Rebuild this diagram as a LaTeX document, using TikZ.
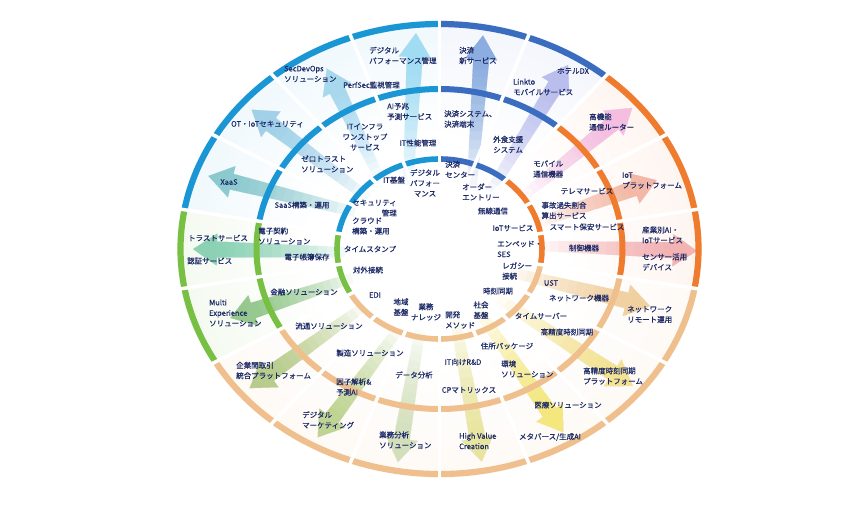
\documentclass[tikz,border=0pt]{standalone}
\usepackage{fontspec}
\setmainfont{Noto Sans CJK JP}[FakeBold=0.35]
\usetikzlibrary{calc}
% ring colours
\definecolor{cLB}{HTML}{1A96D4}
\definecolor{cDB}{HTML}{3A6CC0}
\definecolor{cOR}{HTML}{EF7B2F}
\definecolor{cTN}{HTML}{EFC08E}
\definecolor{cGN}{HTML}{78C043}
% sector tints
\definecolor{tLB}{HTML}{D0EAF8}
\definecolor{tDB}{HTML}{DAE3F5}
\definecolor{tOR}{HTML}{FDDFD0}
\definecolor{tTN}{HTML}{FBEEE0}
\definecolor{tGN}{HTML}{DEF0D2}
% arrow colours
\definecolor{aDPM}{HTML}{7DD3F3}
\definecolor{aPerf}{HTML}{86CDEE}
\definecolor{aOT}{HTML}{7CC2E3}
\definecolor{aXaaS}{HTML}{5DB7BE}
\definecolor{aTrust}{HTML}{5CC39A}
\definecolor{aMulti}{HTML}{6AB45F}
\definecolor{aKigyo}{HTML}{9BBA5C}
\definecolor{aDigi}{HTML}{A6C765}
\definecolor{aGyomu}{HTML}{C4D7A2}
\definecolor{aHV}{HTML}{E2DF78}
\definecolor{aMeta}{HTML}{F4E246}
\definecolor{aKose}{HTML}{F4DC66}
\definecolor{aNW}{HTML}{F1C07A}
\definecolor{aSeigyo}{HTML}{F29798}
\definecolor{aIoT}{HTML}{F39D84}
\definecolor{aKoki}{HTML}{F5A6DA}
\definecolor{aLink}{HTML}{A1A7EB}
\definecolor{aKess}{HTML}{5B8DD7}
\definecolor{navy}{HTML}{1B2966}

\pgfdeclareradialshading{shLB}{\pgfpoint{0bp}{0bp}}{color(0bp)=(white); color(12bp)=(white); color(32bp)=(tLB!50!white); color(46bp)=(tLB); color(100bp)=(tLB)}
\pgfdeclareradialshading{shDB}{\pgfpoint{0bp}{0bp}}{color(0bp)=(white); color(12bp)=(white); color(32bp)=(tDB!50!white); color(46bp)=(tDB); color(100bp)=(tDB)}
\pgfdeclareradialshading{shOR}{\pgfpoint{0bp}{0bp}}{color(0bp)=(white); color(12bp)=(white); color(32bp)=(tOR!50!white); color(46bp)=(tOR); color(100bp)=(tOR)}
\pgfdeclareradialshading{shTN}{\pgfpoint{0bp}{0bp}}{color(0bp)=(white); color(12bp)=(white); color(32bp)=(tTN!50!white); color(46bp)=(tTN); color(100bp)=(tTN)}
\pgfdeclareradialshading{shGN}{\pgfpoint{0bp}{0bp}}{color(0bp)=(white); color(12bp)=(white); color(32bp)=(tGN!50!white); color(46bp)=(tGN); color(100bp)=(tGN)}

\newcommand\lblfont{\fontsize{7.5}{10.4}\selectfont}

% gradient arrow: base x, base y, canvas angle, length, colour
\newcommand\garrow[5]{%
 \begin{scope}[shift={(#1,#2)}, rotate=#3]
  \foreach \i in {0,...,13}{
    \pgfmathsetmacro\ua{\i*(#4-24)/14}
    \pgfmathsetmacro\wa{5+3*\i/14}
    \pgfmathsetmacro\hb{#4-24}
    \fill[#5, fill opacity=0.075] (\ua pt,\wa pt) -- (\hb pt,8pt) -- (\hb pt,16pt) -- (#4pt,0pt)
       -- (\hb pt,-16pt) -- (\hb pt,-8pt) -- (\ua pt,-\wa pt) -- cycle;
  }
 \end{scope}}

\tikzset{
 lbl/.style={font=\lblfont, text=navy, inner sep=0pt},
 lw/.style={lbl, anchor=west, align=left},
 lc/.style={lbl, align=center},
 le/.style={lbl, anchor=east, align=right},
 spoke/.style={white, line width=3.5pt},
}

\begin{document}
\begin{tikzpicture}[x=1pt,y=-1pt]
\useasboundingbox (0,0) rectangle (855,510);
\fill[white] (0,0) rectangle (855,510);

% sector backgrounds
\begin{scope}[shift={(439.5,249)}, yscale=-1]
 \foreach \a/\b/\s in {50/90/shDB, 90/170/shLB, 170/210/shGN, 210/350/shTN, -10/50/shOR}{
  \begin{scope}
   \clip (0,0) -- (\a:262.5 and 228.5) arc[start angle=\a, end angle=\b, x radius=262.5, y radius=228.5] -- cycle;
   \shade[shading=\s] (0,0) ellipse[x radius=262.5, y radius=228.5];
  \end{scope}
 }
\end{scope}

% arrows
\garrow{408}{185}{87.0}{152}{aDPM}
\garrow{378}{175}{115.7}{118}{aPerf}
\garrow{368}{198}{142.8}{146}{aOT}
\garrow{355}{212}{166.2}{151}{aXaaS}
\garrow{345}{252}{178.9}{152}{aTrust}
\garrow{352}{278}{198.2}{128}{aMulti}
\garrow{362}{308}{215.5}{138}{aKigyo}
\garrow{398}{330}{233.2}{134}{aDigi}
\garrow{420}{330}{260.5}{134}{aGyomu}
\garrow{455}{318}{280.6}{146}{aHV}
\garrow{478}{310}{304.9}{149}{aMeta}
\garrow{498}{298}{326.9}{161}{aKose}
\garrow{510}{272}{346.3}{144}{aNW}
\garrow{540}{246}{358.2}{157}{aSeigyo}
\garrow{540}{222}{19.7}{124}{aIoT}
\garrow{525}{195}{39.1}{138}{aKoki}
\garrow{490}{192}{58.4}{149}{aLink}
\garrow{472}{185}{85.8}{150}{aKess}

% rings and spokes
\begin{scope}[shift={(439.5,249)}, yscale=-1]
 \foreach \rx/\ry/\lw in {259/225/6.2, 183/160/6, 102.5/90/5.6}{
  \foreach \a/\b/\c in {50/90/cDB, 90/170/cLB, 170/210/cGN, 210/350/cTN, -10/50/cOR}{
   \draw[line width=\lw pt, \c] (\a:{\rx} and {\ry}) arc[start angle=\a, end angle=\b, x radius=\rx, y radius=\ry];
  }
 }
 \foreach \t in {10,30,...,350}{
  \draw[spoke] (0,0) -- (\t:268 and 234);
 }
\end{scope}

% inner ring labels
\node[lc] (t9) at (394,180) {IT基盤};
\node[lc] (t10) at (425,183) {デジタル\\パフォー\\マンス};
\node[le] (t11) at (397,208) {セキュリティ\\管理};
\node[lw] (t12) at (352,226) {クラウド\\構築・運用};
\node[lc] (t13) at (370,249) {タイムスタンプ};
\node[lc] (t14) at (368,270) {対外接続};
\node[lc] (t15) at (375,295) {EDI};
\node[lc] (t16) at (401,307) {地域\\基盤};
\node[lc] (t17) at (426,312) {業務\\ナレッジ};
\node[lw] (t18) at (445,320) {開発\\メソッド};
\node[lc] (t19) at (481,310) {社会\\基盤};
\node[lc] (t20) at (498,291) {時刻同期};
\node[lw] (t21) at (502,271) {レガシー\\接続};
\node[lw] (t22) at (497,249) {エンベッド・\\SES};
\node[lc] (t23) at (513,228) {IoTサービス};
\node[lc] (t24) at (493,211) {無線通信};
\node[lw] (t25) at (462,192) {オーダー\\エントリー};
\node[lw] (t26) at (445,169.5) {決済\\センター};

% middle ring labels
\node[lw] (t4) at (387,111.5) {AI予兆\\予測サービス};
\node[lc] (t6) at (365,137) {ITインフラ\\ワンストップ\\サービス};
\node[lc] (t7) at (418,143) {IT性能管理};
\node[lw] (t8) at (301,164) {ゼロトラスト\\ソリューション};
\node[lw] (t27) at (444,119) {決済システム、\\決済端末};
\node[lw] (t28) at (493,144.5) {外食支援\\システム};
\node[lw] (t29) at (533,169) {モバイル\\通信機器};
\node[lc] (t30) at (587,191) {テレマサービス};
\node[lc] (t31) at (564,210.5) {事故過失割合\\算出サービス};
\node[lc] (t32) at (587,227) {スマート保安サービス};
\node[lc] (t33) at (584,248) {制御機器};
\node[lc] (t34) at (551,283) {UST};
\node[lc] (t35) at (579,298) {ネットワーク機器};
\node[lc] (t36) at (541,316) {タイムサーバー};
\node[lc] (t37) at (567,332) {高精度時刻同期};
\node[lc] (t38) at (507,346) {住所パッケージ};
\node[lw] (t39) at (501,369) {環境\\ソリューション};
\node[lc] (t40) at (463,362) {IT向けR\&D};
\node[lc] (t41) at (469,390) {CPマトリックス};
\node[lc] (t42) at (414,375) {データ分析};
\node[lw] (t43) at (336,387) {因子解析\&\\予測AI};
\node[lc] (t44) at (370,353) {製造ソリューション};
\node[lc] (t45) at (329,326) {流通ソリューション};
\node[lc] (t46) at (304,292) {金融ソリューション};
\node[lc] (t47) at (307,257) {電子帳簿保存};
\node[lw] (t48) at (258,236) {電子契約\\ソリューション};
\node[lc] (t49) at (302,205) {SaaS構築・運用};

% outer ring labels
\node[lw] (t1) at (369,55.5) {デジタル\\パフォーマンス管理};
\node[lw] (t2) at (284,74) {SecDevOps\\ソリューション};
\node[lc] (t3) at (371.5,85) {PerfSec監視管理};
\node[lc] (t5) at (267.5,124) {OT・IoTセキュリティ};
\node[lc] (t50) at (229,182) {XaaS};
\node[lc] (t51) at (218,238) {トラストサービス};
\node[lw] (t52) at (187,261) {認証サービス};
\node[lw] (t53) at (209,313) {Multi\\Experience\\ソリューション};
\node[lw] (t54) at (236,370.5) {企業間取引\\統合プラットフォーム};
\node[lw] (t55) at (302,420) {デジタル\\マーケティング};
\node[lw] (t56) at (379,440) {業務分析\\ソリューション};
\node[lw] (t57) at (459,441) {High Value\\Creation};
\node[lc] (t58) at (550,437) {メタバース/生成AI};
\node[lc] (t59) at (568,405) {医療ソリューション};
\node[lw] (t60) at (583,376) {高精度時刻同期\\プラットフォーム};
\node[lw] (t61) at (627,314.5) {ネットワーク\\リモート運用};
\node[lw] (t62) at (642,262) {センサー活用\\デバイス};
\node[lw] (t63) at (642,235) {産業別AI・\\IoTサービス};
\node[lw] (t64) at (622,180.5) {IoT\\プラットフォーム};
\node[lw] (t65) at (589,122) {高機能\\通信ルーター};
\node[lc] (t66) at (573,71) {ホテルDX};
\node[lw] (t67) at (513,87) {Linkto\\モバイルサービス};
\node[lw] (t68) at (459,55.5) {決済\\新サービス};
\end{tikzpicture}
\end{document}
